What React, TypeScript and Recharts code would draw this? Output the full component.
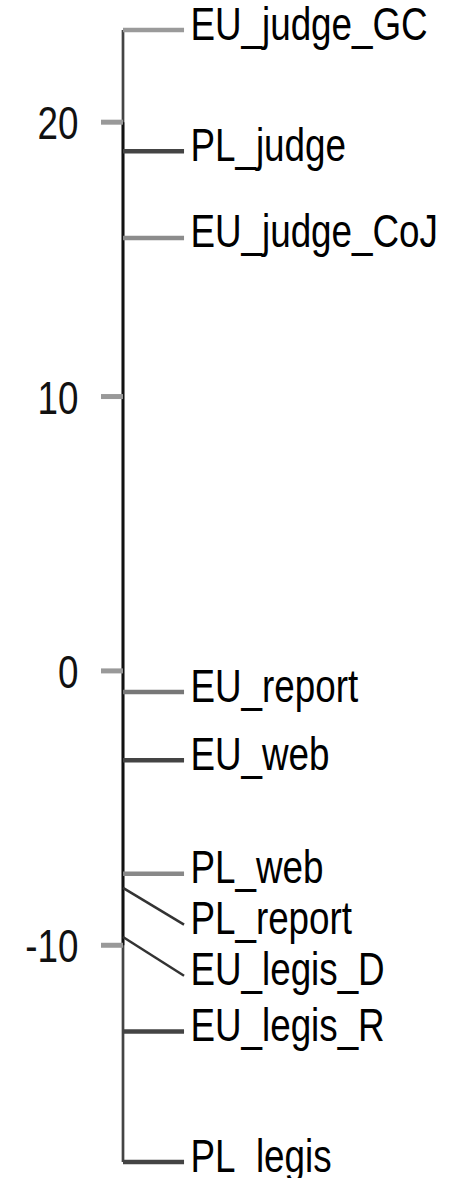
import { ReferenceLine, Scatter, ScatterChart, XAxis, YAxis } from 'recharts';

// Document types, top to bottom, with their score on the vertical scale.
const docNames = [
  'EU_judge_GC',
  'PL_judge',
  'EU_judge_CoJ',
  'EU_report',
  'EU_web',
  'PL_web',
  'PL_report',
  'EU_legis_D',
  'EU_legis_R',
  'PL_legis',
];
const docScores = [23.36, 18.94, 15.78, -0.77, -3.26, -7.39, -7.91, -9.7, -13.14, -17.9];
const scoreTicks = [-10, 0, 10, 20];

// leader colours, one per document
const leaderColors = ['#9a9a9a', '#444', '#8c8c8c', '#777', '#444', '#888', '#333', '#333', '#444', '#444'];

const FONT = '"Liberation Sans", Arial, sans-serif';
const FONT_SIZE = 46;
const SQUEEZE = 0.8;
const LEADER_X = 0.179; // where leaders stop, as a share of the plot width
const LABEL_GAP = 1.86; // minimum spacing between stacked labels, in score units

// push labels down so none of them overlap the one above
const labelScores: number[] = [];
docScores.forEach((s, i) => {
  labelScores.push(i === 0 ? s : Math.min(s, labelScores[i - 1] - LABEL_GAP));
});

const labelRows = docNames.map((name, i) => ({ name, x: LEADER_X, y: labelScores[i] }));

const scoreMin = Math.min(...docScores);
const scoreMax = Math.max(...docScores);

const AxisTick = ({ x, y, payload }: any) => (
  <text
    transform={`translate(${x},${y + 17}) scale(${SQUEEZE},1)`}
    textAnchor="end"
    fontSize={FONT_SIZE}
    fontFamily={FONT}
    fill="#111"
  >
    {payload.value}
  </text>
);

const DocLabel = ({ cx, cy, payload }: any) => (
  <text
    transform={`translate(${cx + 6.4},${cy + 9.5}) scale(${SQUEEZE},1)`}
    fontSize={FONT_SIZE}
    fontFamily={FONT}
    fill="#000"
  >
    {payload.name}
  </text>
);

export default function App() {
  return (
    <div style={{ width: 464, height: 1178 }}>
      <style>{'body{margin:0}'}</style>
      <ScatterChart width={464} height={1178} margin={{ top: 30, right: 0, bottom: 16, left: 0 }}>
        <XAxis type="number" dataKey="x" domain={[0, 1]} hide />
        <YAxis
          type="number"
          dataKey="y"
          width={123}
          domain={[scoreMin, scoreMax]}
          ticks={scoreTicks}
          interval={0}
          tickSize={22}
          tickMargin={22.5}
          axisLine={false}
          tickLine={{ stroke: '#999', strokeWidth: 5 }}
          tick={<AxisTick />}
        />
        {/* spine over the whole range, darker between the outer ticks */}
        <ReferenceLine
          segment={[
            { x: 0, y: scoreMin },
            { x: 0, y: scoreMax },
          ]}
          stroke="#444"
          strokeWidth={2.7}
          ifOverflow="visible"
        />
        <ReferenceLine
          segment={[
            { x: 0, y: scoreTicks[0] },
            { x: 0, y: scoreTicks[scoreTicks.length - 1] },
          ]}
          stroke="#111"
          strokeWidth={2.7}
          ifOverflow="visible"
        />
        {docScores.map((s, i) => (
          <ReferenceLine
            key={docNames[i]}
            segment={[
              { x: 0, y: s },
              { x: LEADER_X, y: labelScores[i] },
            ]}
            stroke={leaderColors[i]}
            strokeWidth={labelScores[i] === s ? 4.5 : 2.5}
            ifOverflow="visible"
          />
        ))}
        <Scatter data={labelRows} shape={<DocLabel />} isAnimationActive={false} />
      </ScatterChart>
    </div>
  );
}
